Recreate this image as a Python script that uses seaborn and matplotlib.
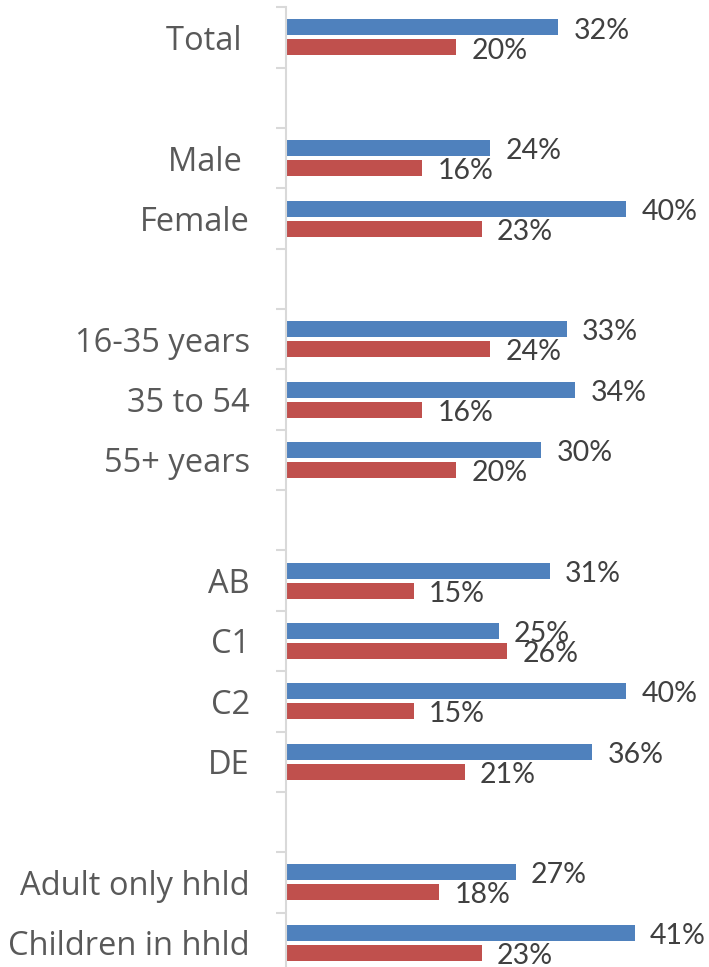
import matplotlib
matplotlib.use("Agg")
import matplotlib.pyplot as plt
import seaborn as sns
import pandas as pd
import numpy as np

# Row layout: empty strings are spacer rows between groups
rows = ["Total ", "", "Male ", "Female", "", "16-35 years", "35 to 54", "55+ years", "",
        "AB", "C1", "C2", "DE", "", "Adult only hhld", "Children in hhld"]
categories = ["Total ", "Male ", "Female", "16-35 years", "35 to 54", "55+ years",
              "AB", "C1", "C2", "DE", "Adult only hhld", "Children in hhld"]
series_a = [32, 24, 40, 33, 34, 30, 31, 25, 40, 36, 27, 41]
series_b = [20, 16, 23, 24, 16, 20, 15, 26, 15, 21, 18, 23]
series_names = ["Series A", "Series B"]
colors = ["#4F81BD", "#C0504D"]

# Spacer rows need unique keys for the categorical axis
keys = []
n_blank = 0
for r in rows:
    if r == "":
        n_blank += 1
        keys.append("_gap%d" % n_blank)
    else:
        keys.append(r)

df = pd.DataFrame({
    "category": categories * 2,
    "series": [series_names[0]] * len(categories) + [series_names[1]] * len(categories),
    "value": series_a + series_b,
})

sns.set_style("white")
plt.rcParams["font.family"] = ["Lato", "DejaVu Sans"]

W, H = 709, 967
fig = plt.figure(figsize=(W / 100, H / 100), dpi=100)
ax_h = 965.6
ax = fig.add_axes([286 / W, (H - 7.3 - ax_h) / H, 417 / W, ax_h / H])

sns.barplot(data=df, y="category", x="value", hue="series", order=keys,
            hue_order=series_names, palette=colors, orient="h",
            width=0.663, gap=0.2, dodge=True, saturation=1, legend=False,
            linewidth=0, ax=ax)

ax.set_xlim(0, 49)
ax.set_ylim(len(keys) - 0.5, -0.5)
ax.set_xlabel("")
ax.set_ylabel("")
ax.set_xticks([])

# Boundary ticks on the category axis, labels at row centers
ax.set_yticks(np.arange(len(keys) + 1) - 0.5)
ax.set_yticklabels([])
ax.set_yticks(np.arange(len(keys)), minor=True)
ax.set_yticklabels(rows, minor=True, family=["Open Sans", "DejaVu Sans"])
ax.tick_params(axis="y", which="major", length=7.5, width=1.5, color="#D9D9D9",
               direction="out", left=True)
ax.tick_params(axis="y", which="minor", length=0, pad=26, labelsize=23.5,
               labelcolor="#595959")

for side in ["top", "right", "bottom"]:
    ax.spines[side].set_visible(False)
ax.spines["left"].set_color("#D9D9D9")
ax.spines["left"].set_linewidth(1.5)

# Value labels, nudged down so the digits sit centred on each bar
for cont in ax.containers:
    texts = ax.bar_label(cont, labels=["%d%%" % round(b.get_width()) for b in cont],
                         padding=11, fontsize=20.5, color="#404040")
    for t in texts:
        t.xyann = (11, -2.2)

fig.savefig("out.png", dpi=100)
